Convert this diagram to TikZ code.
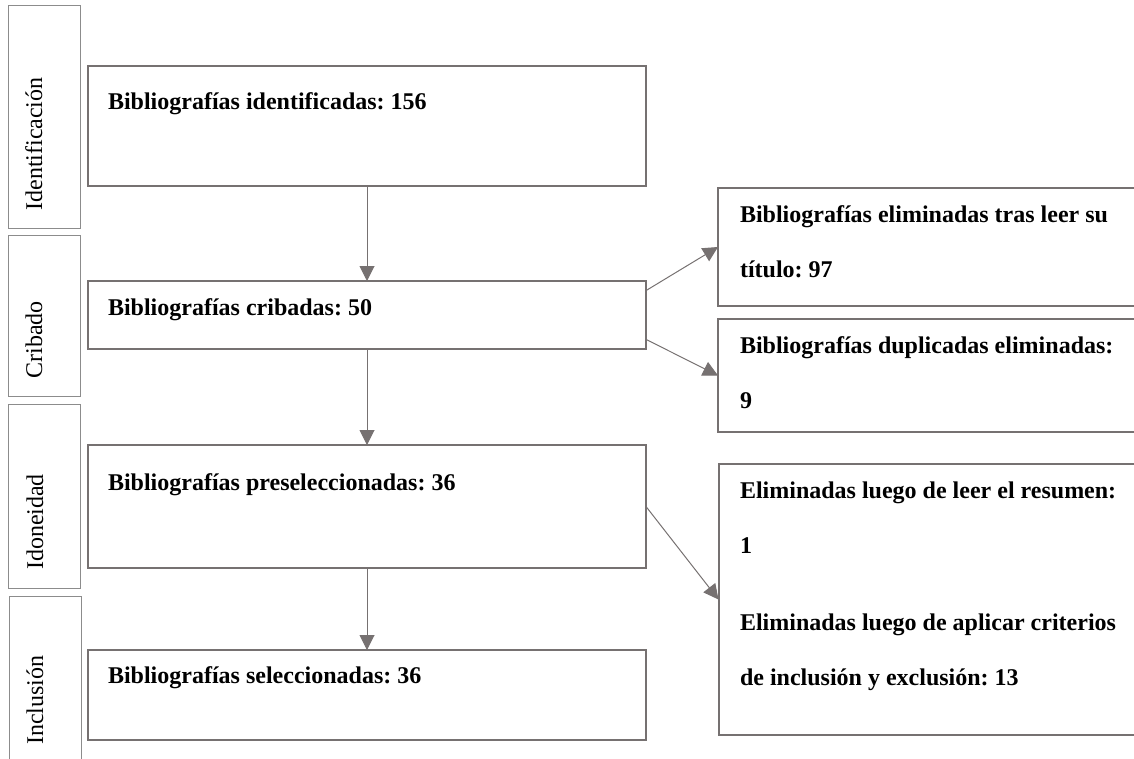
\documentclass[tikz,border=0pt]{standalone}
\usepackage{fontspec}
\setmainfont{Liberation Serif}
\usetikzlibrary{arrows.meta}
\definecolor{boxgray}{RGB}{118,113,113}
\definecolor{lblgray}{RGB}{140,140,140}
\frenchspacing
\begin{document}
\begin{tikzpicture}[x=0.5pt,y=-0.5pt]
        \useasboundingbox (0,0) rectangle (1134,759);
        \tikzstyle{every node}=[inner sep=0pt, outer sep=0pt, font=\fontsize{12}{27.5}\selectfont, text=black]
        \tikzstyle{stage}=[rectangle, draw=lblgray, line width=0.5pt, minimum width=36pt]
        \tikzstyle{box}=[rectangle, draw=boxgray, line width=1pt]
        \tikzstyle{txt}=[anchor=base west, font=\fontsize{12}{27.5}\selectfont\bfseries]
        \tikzstyle{lbl}=[rotate=90, anchor=base]
        \tikzstyle{edge}=[boxgray, line width=0.5pt, -{Triangle[length=7.5pt,width=7.5pt]}]

        \node[stage, minimum height=111.5pt] (s1) at (44,117.5) {};
        \node[stage, minimum height=80pt]    (s2) at (44,316)   {};
        \node[stage, minimum height=92pt]    (s3) at (44.5,496) {};
        \node[stage, minimum height=102pt]   (s4) at (45.5,698) {};

        \node[lbl] (s1txt) at (42,144) {Identificación};
        \node[lbl] (s2txt) at (42,340) {Cribado};
        \node[lbl] (s3txt) at (43,522) {Idoneidad};
        \node[lbl] (s4txt) at (43,700) {Inclusión};

        \node[box, minimum width=279pt, minimum height=60pt]   (ident)  at (367,126)   {};
        \node[box, minimum width=279pt, minimum height=34pt]   (crib)   at (367,315)   {};
        \node[box, minimum width=279pt, minimum height=61.5pt] (presel) at (367,506.5) {};
        \node[box, minimum width=279pt, minimum height=45pt]   (sel)    at (367,695)   {};

        \node[box, minimum width=216pt, minimum height=59pt]    (r1) at (934,247)     {};
        \node[box, minimum width=216pt, minimum height=56.5pt]  (r2) at (934,375.5)   {};
        \node[box, minimum width=216pt, minimum height=135.5pt] (r3) at (934.5,599.5) {};

        \node[txt] (identtxt)  at (108,110) {Bibliografías identificadas: 156};
        \node[txt] (cribtxt)   at (108,315) {Bibliografías cribadas: 50};
        \node[txt] (preseltxt) at (108,490) {Bibliografías preseleccionadas: 36};
        \node[txt] (seltxt)    at (108,683) {Bibliografías seleccionadas: 36};

        \node[txt] (r1txt) at (740,223) {\begin{tabular}[t]{@{}l@{}} Bibliografías eliminadas tras leer su \\ título: 97 \end{tabular}};
        \node[txt] (r2txt) at (740,353) {\begin{tabular}[t]{@{}l@{}} Bibliografías duplicadas eliminadas: \\ 9 \end{tabular}};
        \node[txt] (r3txt) at (740,498) {\begin{tabular}[t]{@{}l@{}} Eliminadas luego de leer el resumen: \\ 1 \\[11pt] Eliminadas luego de aplicar criterios \\ de inclusión y exclusión: 13 \end{tabular}};

        \draw[edge] (ident) -- (crib);
        \draw[edge] (crib) -- (presel);
        \draw[edge] (presel) -- (sel);

        \draw[edge] (crib.5) -- (r1.west);
        \draw[edge] (crib.-5) -- (r2.west);
        \draw[edge] (presel.east) -- (r3.west);
\end{tikzpicture}
\end{document}
